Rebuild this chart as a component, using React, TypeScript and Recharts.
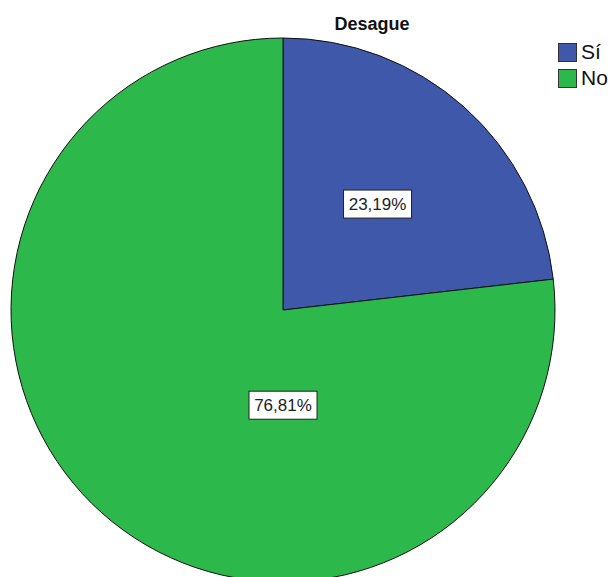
import React from 'react';
import { PieChart, Pie, Cell, Legend } from 'recharts';

const categories = ['Sí', 'No'];
const values = [23.19, 76.81];
const colors = ['#3F58AA', '#2DB84B'];
const title = 'Desague';

const data = categories.map((name, i) => ({ name, value: values[i] }));

const RAD = Math.PI / 180;

const renderLabel = (props: any) => {
  const { cx, cy, midAngle, outerRadius, percent, index } = props;
  let x: number;
  let y: number;
  if (index === 0) {
    const r = outerRadius * 0.522;
    x = cx + r * Math.cos(-midAngle * RAD);
    y = cy + r * Math.sin(-midAngle * RAD);
  } else {
    x = cx;
    y = cy + outerRadius * 0.35;
  }
  const txt = (percent * 100).toFixed(2).replace('.', ',') + '%';
  const w = 68;
  const h = 28;
  return (
    <g>
      <rect x={x - w / 2} y={y - h / 2} width={w} height={h} fill="#fff" stroke="#222" strokeWidth={1} />
      <text x={x} y={y} dy={6} textAnchor="middle" fontSize={17} fontFamily="Liberation Sans, Arial, sans-serif" fill="#222">
        {txt}
      </text>
    </g>
  );
};

const renderLegend = () => (
  <div style={{ fontFamily: 'Liberation Sans, Arial, sans-serif' }}>
    {data.map((d, i) => (
      <div key={d.name} style={{ display: 'flex', alignItems: 'center', height: 26 }}>
        <div style={{ width: 19, height: 19, background: colors[i], border: '1px solid #333', boxSizing: 'border-box', marginRight: 4 }} />
        <span style={{ fontSize: 21, color: '#111', lineHeight: '20px' }}>{d.name}</span>
      </div>
    ))}
  </div>
);

export default function App() {
  return (
    <div style={{ position: 'absolute', left: 0, top: 0, width: 611, height: 577, background: '#fff', overflow: 'hidden' }}>
      <PieChart width={611} height={577} margin={{ top: 0, right: 0, bottom: 0, left: 0 }}>
        <text x={372} y={30} textAnchor="middle" fontSize={18} fontWeight="bold" fontFamily="Liberation Sans, Arial, sans-serif" fill="#111">
          {title}
        </text>
        <Pie
          data={data}
          dataKey="value"
          nameKey="name"
          cx={283}
          cy={310}
          outerRadius={272}
          startAngle={90}
          endAngle={-270}
          stroke="#111"
          strokeWidth={1}
          label={renderLabel}
          labelLine={false}
          isAnimationActive={false}
        >
          {data.map((d, i) => (
            <Cell key={d.name} fill={colors[i]} />
          ))}
        </Pie>
        <Legend
          content={renderLegend}
          layout="vertical"
          verticalAlign="top"
          align="right"
          wrapperStyle={{ position: 'absolute', left: 558, top: 39, width: 60 }}
        />
      </PieChart>
    </div>
  );
}
